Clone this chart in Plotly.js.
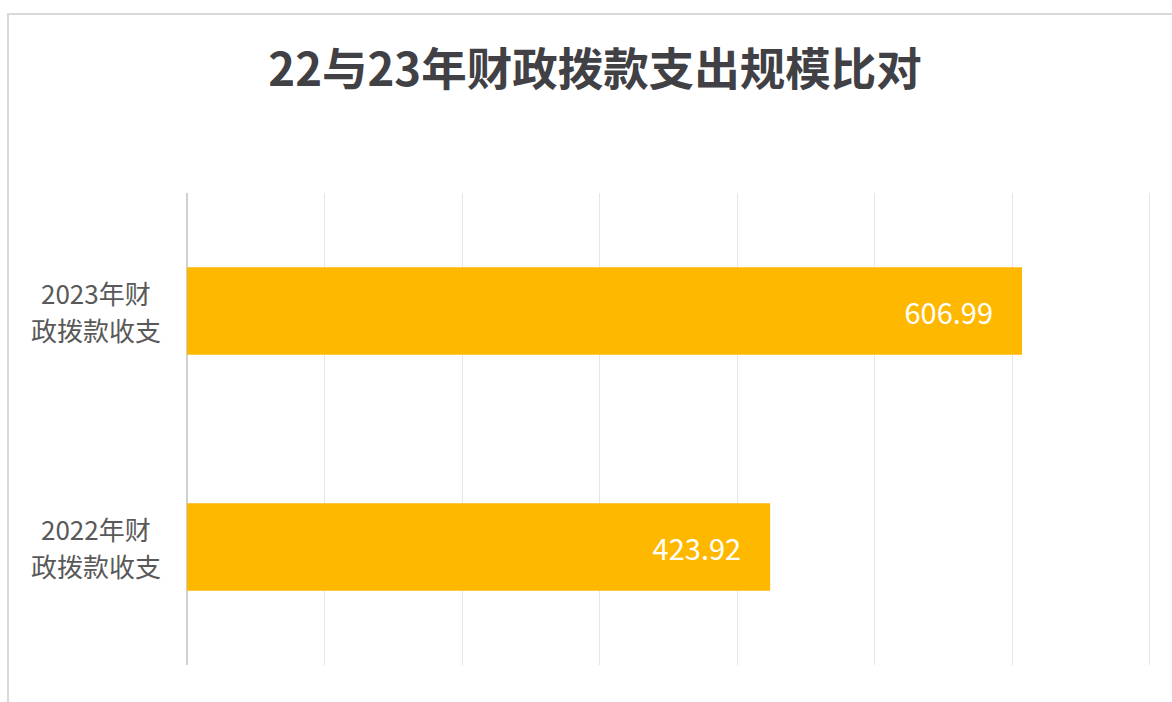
<!DOCTYPE html>
<html>
<head>
<meta charset="utf-8">
<script src="https://cdn.plot.ly/plotly-3.0.1.min.js"></script>
<style>
  html, body { margin: 0; padding: 0; background: #fff; }
  #wrap { position: relative; width: 1172px; height: 702px; overflow: hidden; }
  #frame { position: absolute; left: 7px; top: 13px; width: 1200px; height: 720px;
           border-left: 2px solid #d9d9d9; border-top: 2px solid #d9d9d9; pointer-events: none; }
  #chart { position: absolute; left: 0; top: 0; width: 1172px; height: 702px; }
</style>
</head>
<body>
<div id="wrap">
  <div id="chart"></div>
  <div id="frame"></div>
</div>
<script>
const titleText = '22与23年财政拨款支出规模比对';
const categories = ['2022年财政拨款收支', '2023年财政拨款收支'];
const labelLine1 = ['2022年财', '2023年财'];
const labelLine2 = ['政拨款收支', '政拨款收支'];
const values = [423.92, 606.99];
const xTicks = [0, 100, 200, 300, 400, 500, 600, 700];

const cjk = '"Noto Sans CJK SC", "Microsoft YaHei", sans-serif';

const trace = {
  type: 'bar',
  orientation: 'h',
  x: values,
  y: categories,
  width: 0.37,
  marker: { color: '#FFB800' },
  text: values.map(v => v.toFixed(2) + '\u00a0\u00a0\u00a0\u00a0'),
  textposition: 'inside',
  insidetextanchor: 'end',
  textfont: { color: '#ffffff', size: 29, family: cjk },
  hoverinfo: 'none'
};

const labelFont = { family: cjk, size: 26, color: '#595959' };
const annotations = [];
categories.forEach((c, i) => {
  annotations.push({
    xref: 'paper', yref: 'y', x: -0.0943, y: c,
    xanchor: 'center', yanchor: 'middle', yshift: 19,
    text: labelLine1[i], showarrow: false, font: labelFont
  });
  annotations.push({
    xref: 'paper', yref: 'y', x: -0.0943, y: c,
    xanchor: 'center', yanchor: 'middle', yshift: -18,
    text: labelLine2[i], showarrow: false, font: labelFont
  });
});

const layout = {
  width: 1172, height: 702,
  margin: { l: 187, r: 20, t: 193, b: 37 },
  paper_bgcolor: '#ffffff',
  plot_bgcolor: '#ffffff',
  showlegend: false,
  title: {
    text: '<b>' + titleText + '</b>',
    x: 0.5077, xanchor: 'center',
    y: 0.9, yanchor: 'middle', yref: 'container',
    font: { family: cjk, size: 45.5, color: '#404045' }
  },
  xaxis: {
    range: [0, 701.5],
    tickvals: xTicks,
    showticklabels: false,
    showgrid: true,
    gridcolor: '#e6e6e6',
    gridwidth: 1,
    zeroline: true,
    zerolinecolor: '#d0d0d0',
    zerolinewidth: 1.5,
    showline: false,
    fixedrange: true
  },
  yaxis: {
    type: 'category',
    categoryorder: 'array',
    categoryarray: categories,
    showticklabels: false,
    showgrid: false,
    zeroline: false,
    showline: false,
    fixedrange: true
  },
  annotations: annotations
};

Plotly.newPlot('chart', [trace], layout, { displayModeBar: false, staticPlot: true });
</script>
</body>
</html>
